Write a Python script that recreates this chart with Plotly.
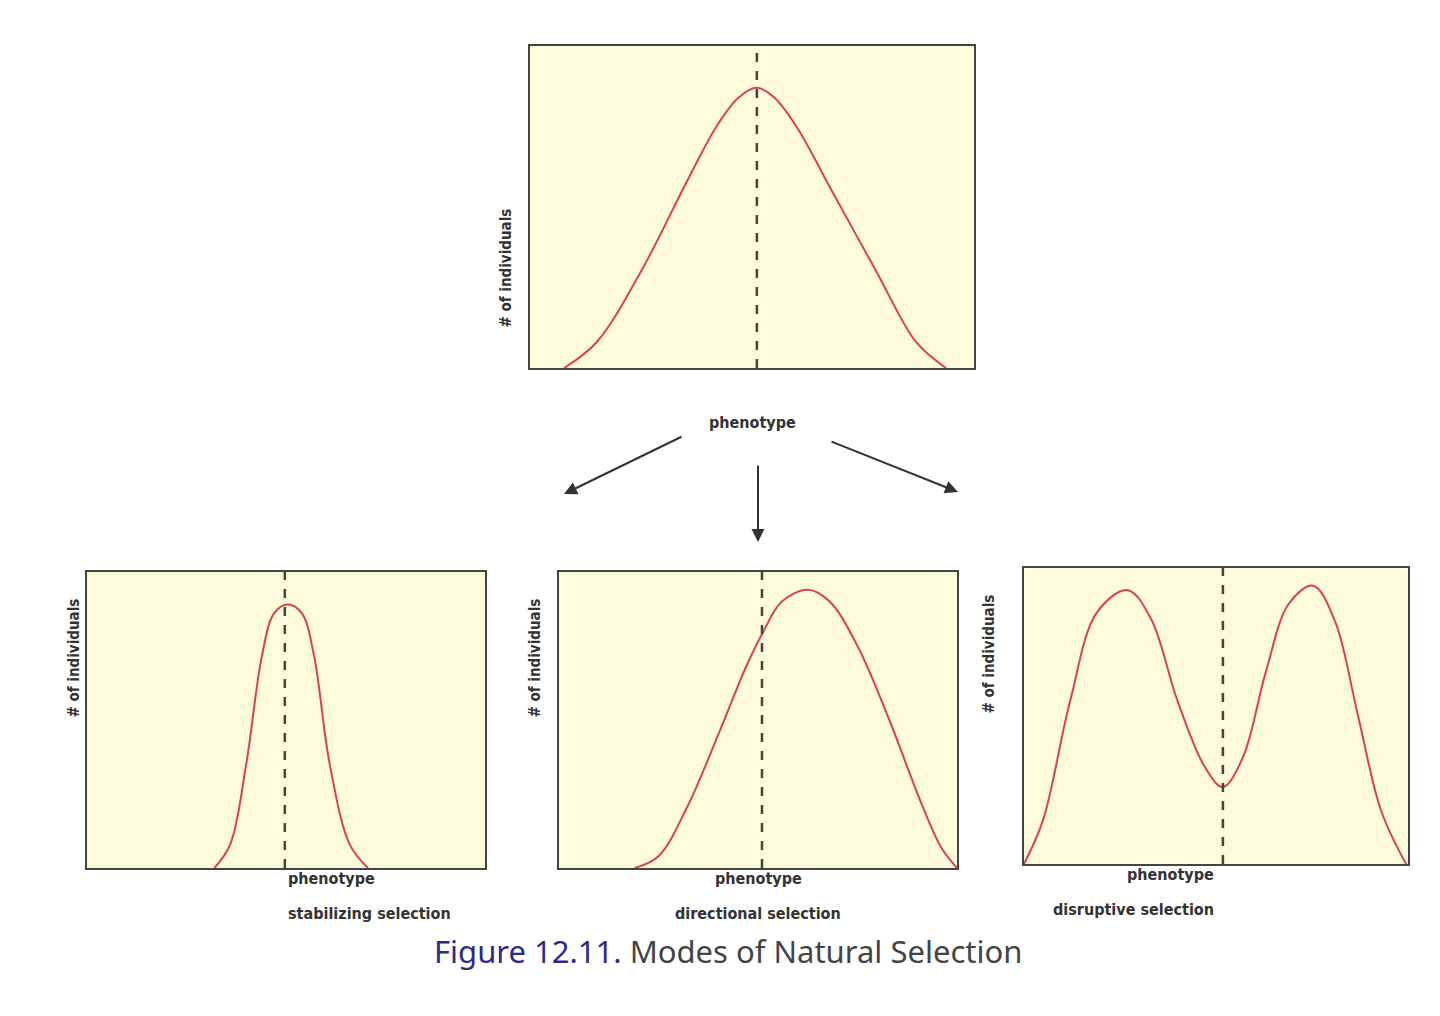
import plotly.graph_objects as go

# Data (normalized phenotype 0..1, # of individuals 0..1)
top_x = [0.077,0.15,0.25,0.35,0.42,0.47,0.511,0.55,0.60,0.68,0.78,0.87,0.937]
top_y = [0,0.08,0.3,0.57,0.75,0.84,0.87,0.84,0.75,0.55,0.3,0.08,0]
stab_x = [0.32,0.36,0.40,0.44,0.47,0.505,0.54,0.57,0.61,0.66,0.706]
stab_y = [0,0.08,0.35,0.72,0.86,0.89,0.86,0.72,0.35,0.08,0]
dir_x = [0.19,0.25,0.32,0.40,0.47,0.51,0.56,0.626,0.68,0.75,0.83,0.91,0.96,1.0]
dir_y = [0,0.04,0.2,0.45,0.68,0.79,0.9,0.94,0.9,0.75,0.5,0.22,0.07,0]
dis_x = [0,0.05,0.12,0.19,0.27,0.33,0.40,0.47,0.518,0.57,0.63,0.69,0.753,0.81,0.87,0.93,0.995]
dis_y = [0,0.15,0.55,0.85,0.925,0.83,0.55,0.33,0.26,0.36,0.65,0.88,0.94,0.82,0.5,0.18,0]
means = [0.511, 0.497, 0.51, 0.518]
captions = ["stabilizing selection", "directional selection", "disruptive selection"]

W, H = 1440, 1016
panels = [  # pixel boxes x0,x1,y0,y1 (top-down)
    (522, 966, 38, 360),
    (79, 477, 564, 860),
    (551, 949, 564, 860),
    (1016, 1400, 560, 856),
]
series = [(top_x, top_y), (stab_x, stab_y), (dir_x, dir_y), (dis_x, dis_y)]
FONT = "DejaVu Sans Condensed, Liberation Sans Narrow, Arial Narrow, sans-serif"
fig = go.Figure()
ann = []
for i, ((x0, x1, y0, y1), (xs, ys), m) in enumerate(zip(panels, series, means)):
    n = "" if i == 0 else str(i + 1)
    fig.add_trace(go.Scatter(x=xs, y=ys, mode="lines", line=dict(color="#d9434b", width=2, shape="spline", smoothing=1.0),
                             xaxis="x" + n, yaxis="y" + n, showlegend=False, hoverinfo="skip"))
    fig.add_trace(go.Scatter(x=[m, m], y=[0, 1], mode="lines", line=dict(color="#444", width=2.5, dash="dash"),
                             xaxis="x" + n, yaxis="y" + n, showlegend=False, hoverinfo="skip"))
    ax = dict(domain=[x0 / W, x1 / W], range=[0, 1], showticklabels=False, showgrid=False, zeroline=False,
              showline=True, mirror=True, linecolor="#444", linewidth=2, ticks="")
    ay = dict(domain=[1 - y1 / H, 1 - y0 / H], range=[0, 1], showticklabels=False, showgrid=False, zeroline=False,
              showline=True, mirror=True, linecolor="#444", linewidth=2, ticks="")
    if i > 0:
        ax["anchor"] = "y" + n
        ay["anchor"] = "x" + n
    fig.update_layout({"xaxis" + n: ax, "yaxis" + n: ay})
    fig.add_shape(type="rect", xref="paper", yref="paper", x0=x0 / W, x1=x1 / W, y0=1 - y1 / H, y1=1 - y0 / H,
                  fillcolor="#fdfbdc", line_width=0, layer="below")
    ann.append(dict(x=(x0 - 25) / W, y=1 - (y0 + y1) / 2 / H, text="<b># of individuals</b>", textangle=-90,
                    showarrow=False, font=dict(size=15, color="#333", family=FONT)))
    cx = (x0 + x1) / 2 / W
    py = 415 if i == 0 else y1 + 22
    ann.append(dict(x=cx, y=1 - py / H, text="<b>phenotype</b>", showarrow=False,
                    font=dict(size=16, color="#333", family=FONT)))
    if i > 0:
        ann.append(dict(x=cx, y=1 - (py + 35) / H, text="<b>" + captions[i - 1] + "</b>", showarrow=False,
                        font=dict(size=16, color="#333", family=FONT)))

for (ax0, ay0, ax1, ay1) in [(675, 428, 556, 486), (750, 456, 750, 534), (822, 433, 950, 484)]:
    ann.append(dict(x=ax1 / W, y=1 - ay1 / H, ax=ax0 - ax1, ay=ay0 - ay1,
                    text="", showarrow=True, arrowhead=2, arrowsize=1.3,
                    arrowwidth=2, arrowcolor="#333"))
ann.append(dict(x=0.5, y=1 - 966 / H, showarrow=False,
                text="<span style='color:#2e2a8c'>Figure 12.11.</span> Modes of Natural Selection",
                font=dict(size=31, color="#444", family="Noto Sans, sans-serif")))
for a in ann:
    a.setdefault("xref", "paper"); a.setdefault("yref", "paper")

fig.update_layout(width=W, height=H, margin=dict(l=0, r=0, t=0, b=0), paper_bgcolor="white",
                  plot_bgcolor="rgba(0,0,0,0)", annotations=ann)
fig.write_html("out.html")
